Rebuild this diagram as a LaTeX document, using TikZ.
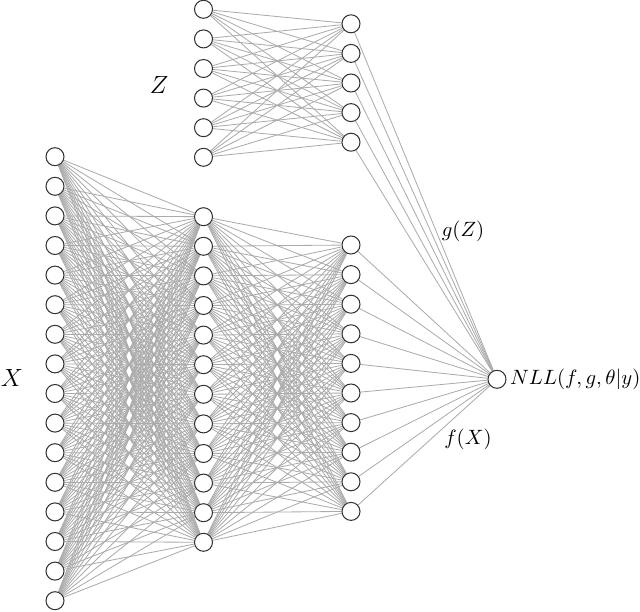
\documentclass[tikz,border=0pt]{standalone}
\usetikzlibrary{backgrounds}
\begin{document}
\begin{tikzpicture}[x=0.483pt,y=-0.483pt,
  neuron/.style={circle,draw=black!80,line width=0.5pt,fill=white,minimum size=8.7pt,inner sep=0pt},
  conn/.style={draw=black!33,line width=0.4pt},
  lab/.style={inner sep=0pt},
  biglab/.style={inner sep=0pt,font=\large}]
\useasboundingbox (0,0) rectangle (640,612);
% Z branch
\foreach \i in {1,...,6} \node[neuron] (zi\i) at (203.5,{9.3+29.6*(\i-1)}) {};
\foreach \i in {1,...,5} \node[neuron] (zh\i) at (351,{23.8+29.6*(\i-1)}) {};
% X branch
\foreach \i in {1,...,16} \node[neuron] (xi\i) at (55,{156.7+29.6*(\i-1)}) {};
\foreach \i in {1,...,12} \node[neuron] (xa\i) at (203.5,{216.7+29.6*(\i-1)}) {};
\foreach \i in {1,...,10} \node[neuron] (xb\i) at (351,{245+29.6*(\i-1)}) {};
% output
\node[neuron] (out) at (497,379.3) {};
% connections
\begin{scope}[on background layer]
\foreach \i in {1,...,6} \foreach \j in {1,...,5} \draw[conn] (zi\i) -- (zh\j);
\foreach \i in {1,...,16} \foreach \j in {1,...,12} \draw[conn] (xi\i) -- (xa\j);
\foreach \i in {1,...,12} \foreach \j in {1,...,10} \draw[conn] (xa\i) -- (xb\j);
\foreach \j in {1,...,5} \draw[conn] (zh\j) -- (out);
\foreach \j in {1,...,10} \draw[conn] (xb\j) -- (out);
\end{scope}
% labels
\node[biglab] (lz) at (159,85) {$Z$};
\node[biglab] (lx) at (12,378) {$X$};
\node[lab] (lg) at (463,231) {$g(Z)$};
\node[lab] (lf) at (468,439) {$f(X)$};
\node[anchor=west,inner sep=1.5pt] (lnll) at (out.east) {$NLL(f,g,\theta|y)$};
\end{tikzpicture}
\end{document}
